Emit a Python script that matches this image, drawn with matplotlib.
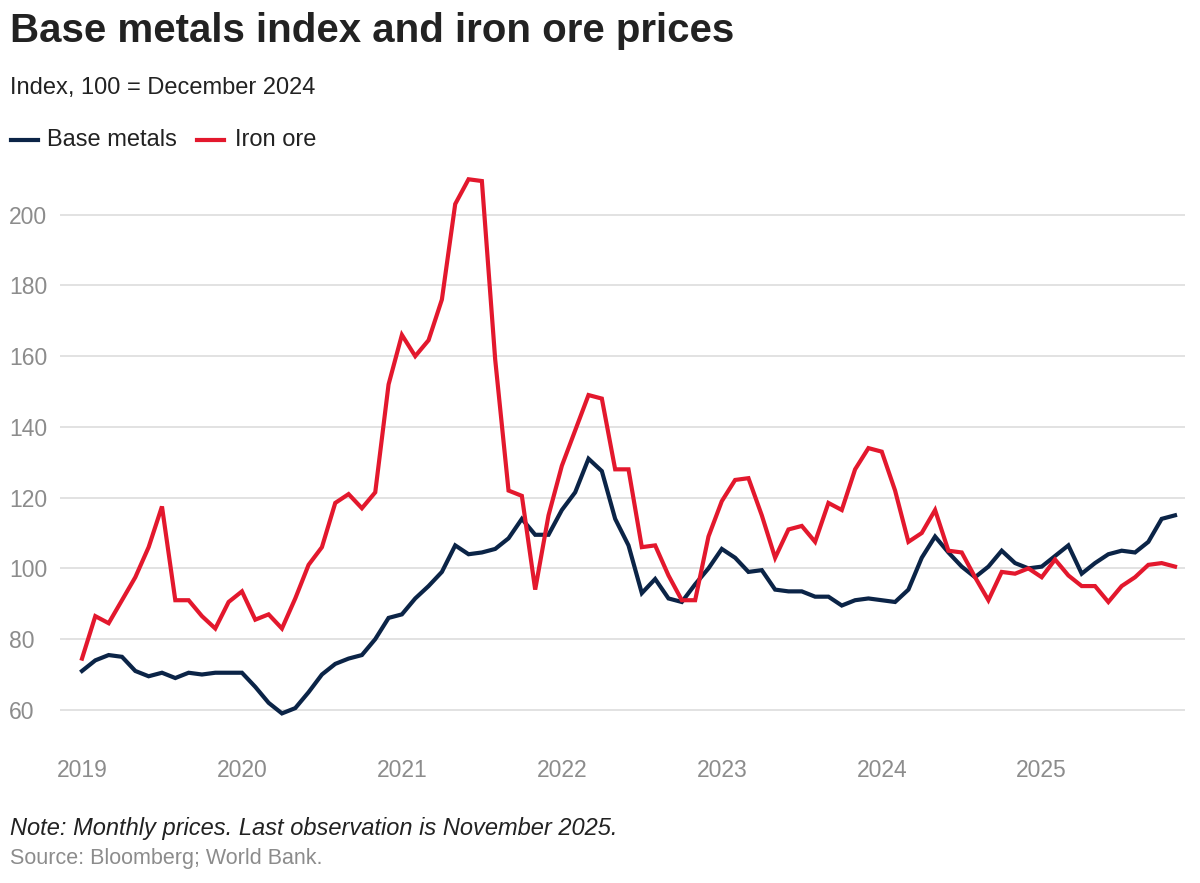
import numpy as np
import matplotlib.pyplot as plt

### DATA ###
iron_ore = [
    74.5, 86.5, 84.5, 91, 97.5, 106, 117.5, 91, 91, 86.5, 83, 90.5,
    93.5, 85.5, 87, 83, 91.5, 101, 106, 118.5, 121, 117, 121.5, 152,
    166, 160, 164.5, 176, 203, 210, 209.5, 159, 122, 120.5, 94, 115,
    129, 139, 149, 148, 128, 128, 106, 106.5, 98, 91, 91, 109,
    119, 125, 125.5, 115, 103, 111, 112, 107.5, 118.5, 116.5, 128, 134,
    133, 122, 107.5, 110, 116.5, 105, 104.5, 97.5, 91, 99, 98.5, 100,
    97.5, 102.5, 98, 95, 95, 90.5, 95, 97.5, 101, 101.5, 100.5,
]
base_metals = [
    71, 74, 75.5, 75, 71, 69.5, 70.5, 69, 70.5, 70, 70.5, 70.5,
    70.5, 66.5, 62, 59, 60.5, 65, 70, 73, 74.5, 75.5, 80, 86,
    87, 91.5, 95, 99, 106.5, 104, 104.5, 105.5, 108.5, 114, 109.5, 109.5,
    116.5, 121.5, 131, 127.5, 114, 106.5, 93, 97, 91.5, 90.5, 95.5, 100,
    105.5, 103, 99, 99.5, 94, 93.5, 93.5, 92, 92, 89.5, 91, 91.5,
    91, 90.5, 94, 103, 109, 104.5, 100.5, 97.5, 100.5, 105, 101.5, 100,
    100.5, 103.5, 106.5, 98.5, 101.5, 104, 105, 104.5, 107.5, 114, 115,
]
years = ["2019", "2020", "2021", "2022", "2023", "2024", "2025"]
y_ticks = [60, 80, 100, 120, 140, 160, 180, 200]

NAVY = "#0b2447"
RED = "#e3182d"
GREY = "#8c8c8c"

plt.rcParams["font.family"] = ["Liberation Sans", "DejaVu Sans"]

fig = plt.figure(figsize=(12, 8.83), dpi=100)
ax = fig.add_axes([0.05, 0.156, 0.9375, 0.657])

months = np.arange(len(iron_ore))
ax.plot(months, base_metals, color=NAVY, lw=3, solid_joinstyle="miter")
ax.plot(months, iron_ore, color=RED, lw=3, solid_joinstyle="miter")

ax.set_xlim(-1.65, 82.75)
ax.set_ylim(50, 214)
ax.set_yticks(y_ticks)
ax.set_xticks(np.arange(len(years)) * 12)
ax.set_xticklabels(years)
ax.grid(axis="y", color="#dddddd", lw=1.2)
ax.set_axisbelow(True)
for s in ["top", "right", "left", "bottom"]:
    ax.spines[s].set_visible(False)
ax.tick_params(axis="both", length=0, labelsize=16.5, colors=GREY, pad=10)
ax.tick_params(axis="y", pad=0)
for lbl in ax.get_yticklabels():
    lbl.set_horizontalalignment("left")
    lbl.set_x(-0.045)

fig.text(0.008, 0.953, "Base metals index and iron ore prices", fontsize=29,
         fontweight="bold", color="#222222", va="baseline")
fig.text(0.008, 0.893, "Index, 100 = December 2024", fontsize=17, color="#222222", va="baseline")

# legend
fig.add_artist(plt.Line2D([0.009, 0.032], [0.841, 0.841], color=NAVY, lw=3))
fig.text(0.039, 0.841, "Base metals", fontsize=17, color="#222222", va="center")
fig.add_artist(plt.Line2D([0.164, 0.187], [0.841, 0.841], color=RED, lw=3))
fig.text(0.196, 0.841, "Iron ore", fontsize=17, color="#222222", va="center")

fig.text(0.008, 0.054, "Note: Monthly prices. Last observation is November 2025.", fontsize=17,
         style="italic", color="#222222", va="baseline")
fig.text(0.008, 0.022, "Source: Bloomberg; World Bank.", fontsize=15.5, color=GREY, va="baseline")

fig.savefig("out.png", dpi=100)
